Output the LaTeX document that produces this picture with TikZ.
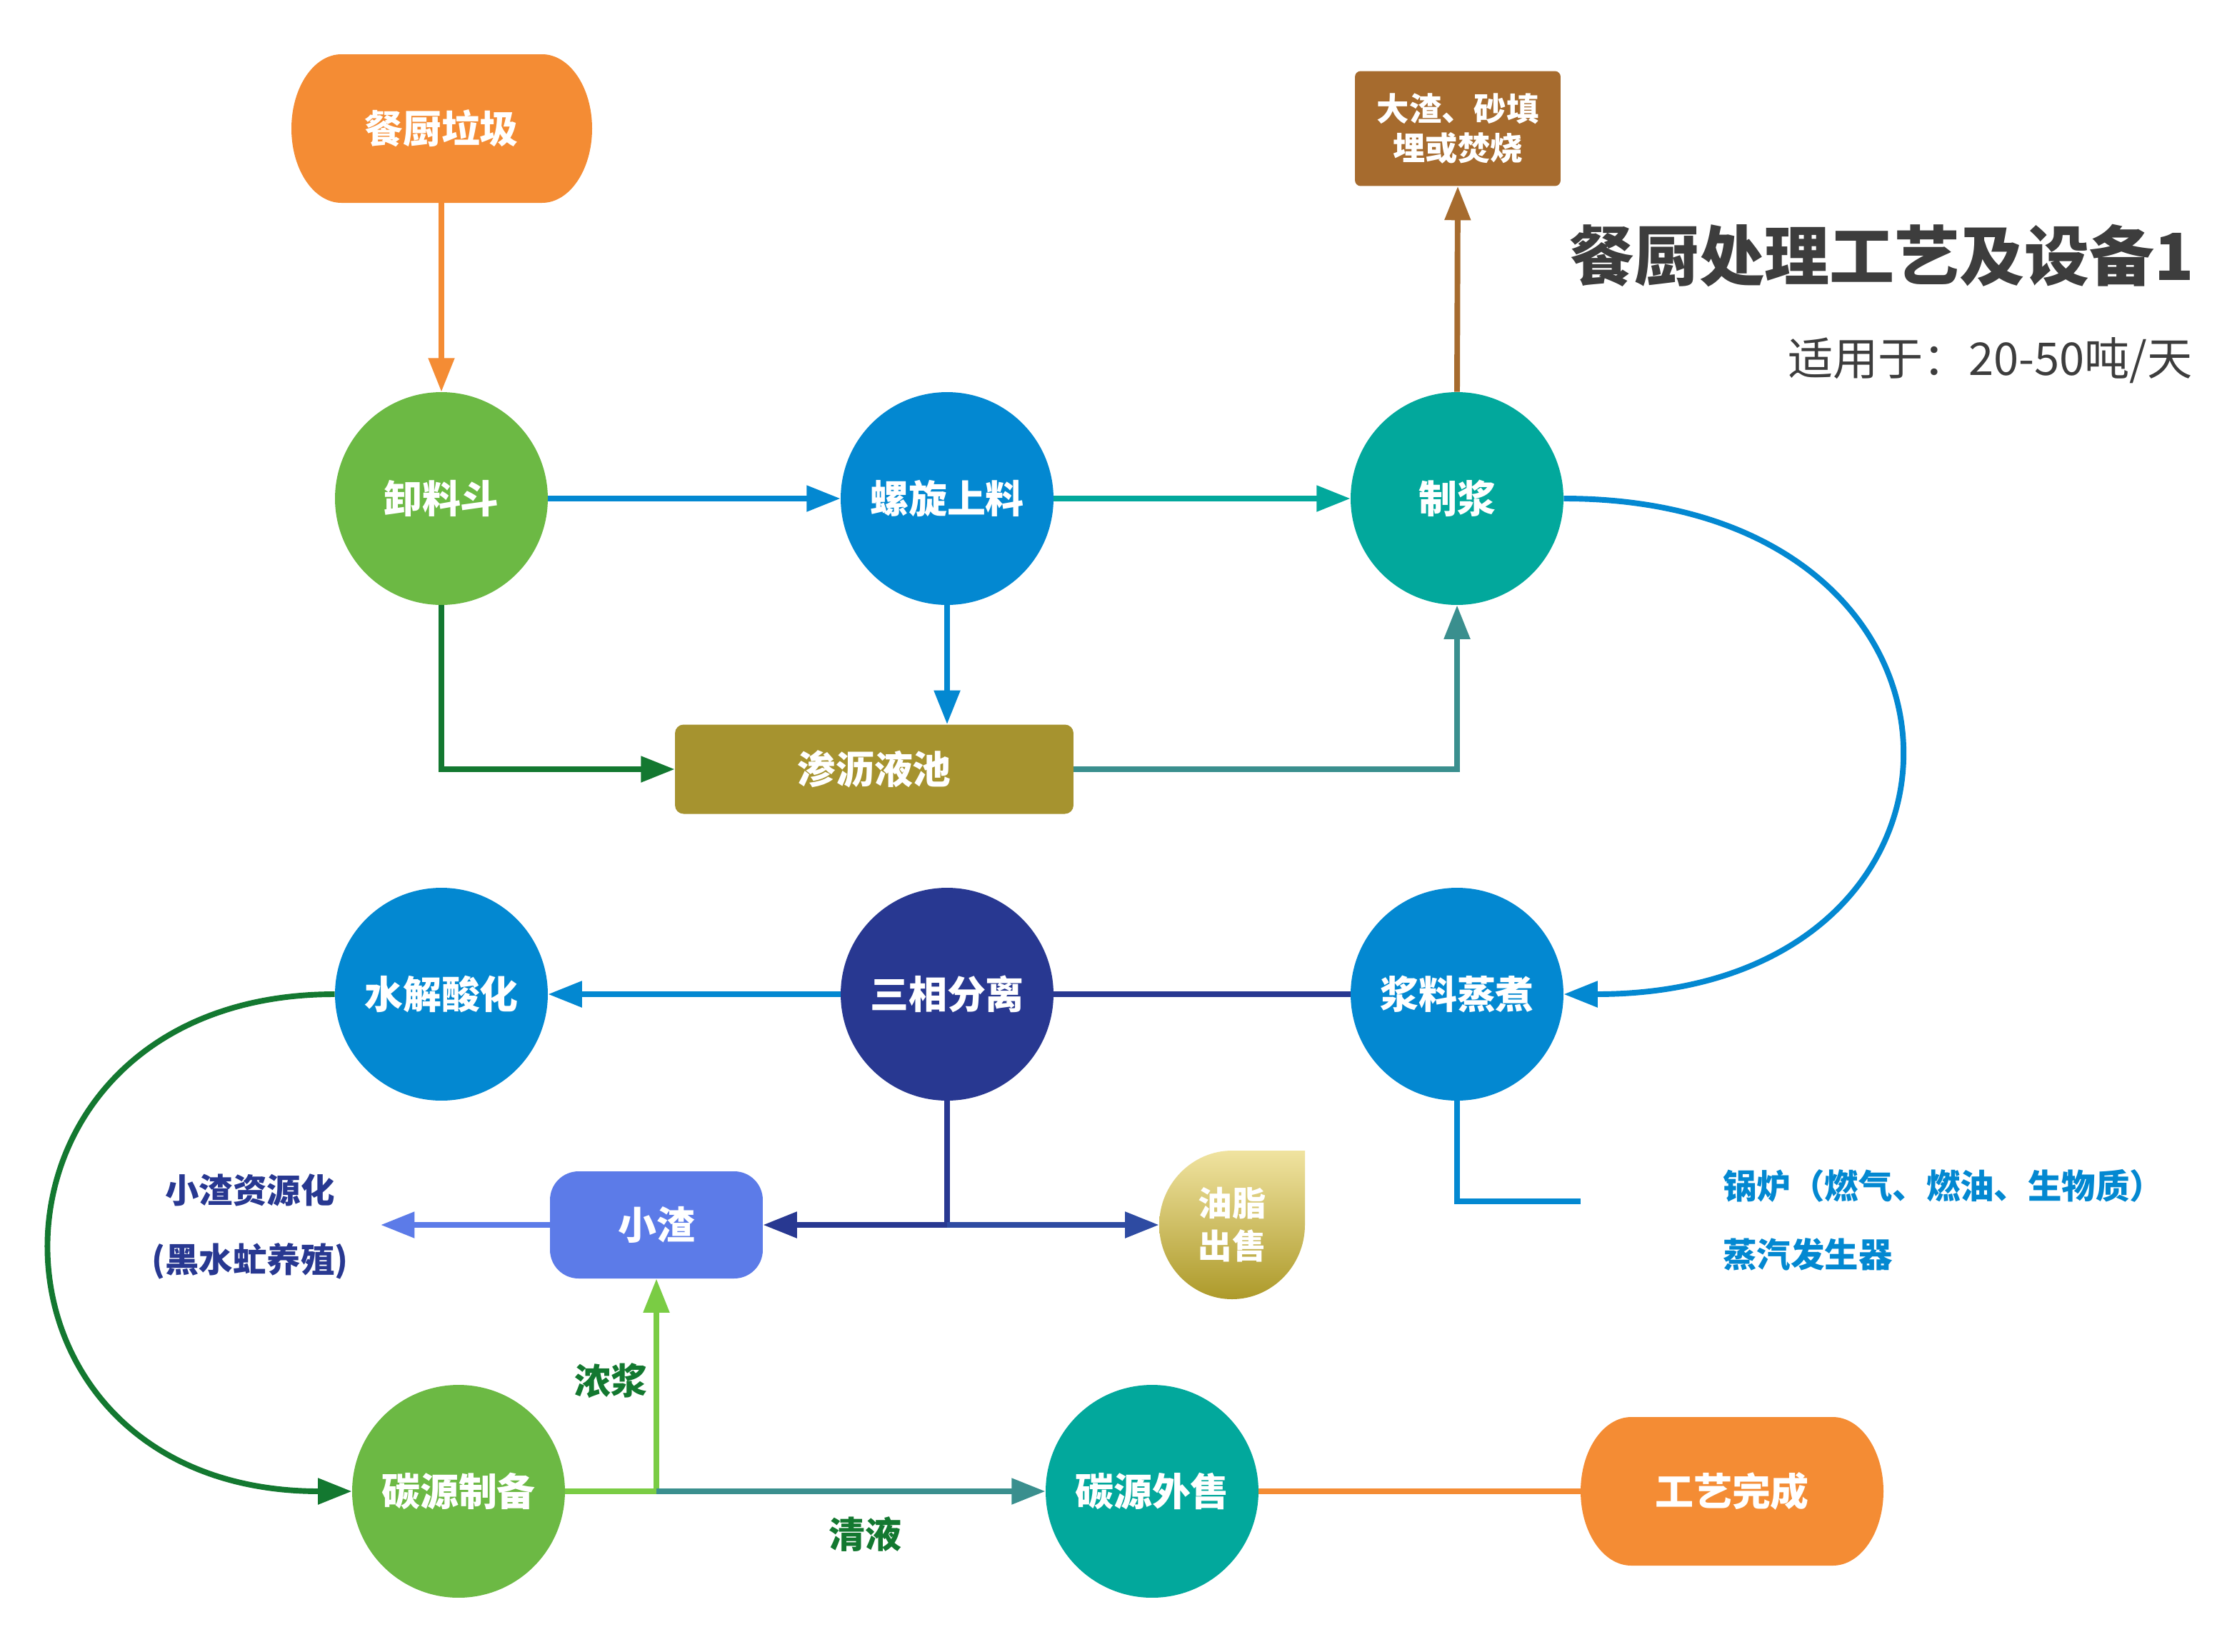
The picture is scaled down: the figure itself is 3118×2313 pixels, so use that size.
\documentclass[tikz,border=0pt]{standalone}
\usepackage{fontspec}
\newfontfamily\cjk{Noto Sans CJK SC}
\usetikzlibrary{arrows.meta}
\definecolor{cOrange}{HTML}{F48C34}
\definecolor{cGreen}{HTML}{6CB944}
\definecolor{cBlue}{HTML}{0388D1}
\definecolor{cTeal}{HTML}{02A89C}
\definecolor{cNavy}{HTML}{283891}
\definecolor{cOlive}{HTML}{A6932F}
\definecolor{cBrown}{HTML}{A66B2E}
\definecolor{cSmall}{HTML}{5C7BE8}
\definecolor{cDkGreen}{HTML}{137830}
\definecolor{cTealGray}{HTML}{3A8F8E}
\definecolor{cLightGreen}{HTML}{7ACC44}
\definecolor{cNavyB}{HTML}{2E4BA2}
\definecolor{cTitle}{HTML}{3D3D3D}
\definecolor{cLeafTop}{HTML}{F0E3A0}
\definecolor{cLeafBot}{HTML}{AD9A2A}
\begin{document}
\begin{tikzpicture}[x=0.02cm,y=-0.02cm,
  every node/.style={inner sep=0pt, align=center, text=white,
    font=\cjk\bfseries\fontsize{30.7pt}{36pt}\selectfont},
  circ/.style={circle, minimum size=5.96cm, fill=#1},
  pill/.style={rectangle, minimum width=8.42cm, minimum height=4.16cm},
  pillfill/.style={fill=cOrange},
  conn/.style={line width=4.5pt, draw=#1},
  arr/.style={conn=#1, -{Triangle[length=27pt,width=20pt]}},
  lbl/.style={text=#1, font=\cjk\bfseries\fontsize{27pt}{32pt}\selectfont},
]
\useasboundingbox (0,0) rectangle (3118,2313);

% pill backgrounds (elliptic ends)
\path[pillfill] (478,76) -- (759,76) arc[start angle=270, end angle=450, x radius=70, y radius=104]
  -- (478,284) arc[start angle=90, end angle=270, x radius=70, y radius=104] -- cycle;
\path[pillfill] (2284,1984) -- (2566,1984) arc[start angle=270, end angle=450, x radius=71, y radius=104]
  -- (2284,2192) arc[start angle=90, end angle=270, x radius=71, y radius=104] -- cycle;

% nodes
\node[pill] (cc) at (618,180) {餐厨垃圾};
\node[rectangle, rounded corners=0.16cm, minimum width=5.76cm, minimum height=3.22cm, fill=cBrown,
      font=\cjk\bfseries\fontsize{25.8pt}{31.8pt}\selectfont] (dz) at (2041,180) {大渣、砂填\\埋或焚烧};
\node[circ=cGreen] (xl) at (618,698) {卸料斗};
\node[circ=cBlue] (lx) at (1326,698) {螺旋上料};
\node[circ=cTeal] (zj) at (2040,698) {制浆};
\node[rectangle, rounded corners=0.24cm, minimum width=11.16cm, minimum height=2.5cm, fill=cOlive] (sl) at (1224,1077) {渗沥液池};
\node[circ=cBlue] (sj) at (618,1392) {水解酸化};
\node[circ=cNavy] (sx) at (1326,1392) {三相分离};
\node[circ=cBlue] (zc) at (2040,1392) {浆料蒸煮};
\node[rectangle, rounded corners=0.8cm, minimum width=5.96cm, minimum height=3.0cm, fill=cSmall] (xz) at (919,1715) {小渣};
\shade[top color=cLeafTop, bottom color=cLeafBot]
  (1827,1611) -- (1827,1715) .. controls (1827,1772) and (1781,1819) .. (1725,1819)
  .. controls (1669,1819) and (1623,1772) .. (1623,1715)
  .. controls (1623,1658) and (1669,1611) .. (1725,1611) -- cycle;
\node[rectangle, minimum width=4.08cm, minimum height=4.16cm,
      font=\cjk\bfseries\fontsize{27pt}{34pt}\selectfont] (yz) at (1725,1715) {油脂\\出售};
\node[circ=cGreen] (tz) at (642,2088) {碳源制备};
\node[circ=cTeal] (tw) at (1613,2088) {碳源外售};
\node[pill] (wc) at (2425,2088) {工艺完成};

% title
\node[anchor=east, text=cTitle, font=\cjk\bfseries\fontsize{51.8pt}{60pt}\selectfont] (title) at (3072,358) {餐厨处理工艺及设备1};
\node[anchor=east, text=cTitle, font=\cjk\fontsize{36pt}{42pt}\selectfont] (sub) at (3070,505) {适用于：20-50吨/天};

% labels
\node[lbl=cNavy] (zy1) at (350,1666) {小渣资源化};
\node[lbl=cNavy] (zy2) at (350,1766) {(黑水虻养殖)};
\node[lbl=cBlue, anchor=west] (gl1) at (2412,1660) {锅炉（燃气、燃油、生物质）};
\node[lbl=cBlue, anchor=west] (gl2) at (2412,1756) {蒸汽发生器};
\node[lbl=cDkGreen, font=\cjk\bfseries\fontsize{29pt}{34pt}\selectfont] (nj) at (855,1933) {浓浆};
\node[lbl=cDkGreen, font=\cjk\bfseries\fontsize{29pt}{34pt}\selectfont] (qy) at (1211,2148) {清液};

% coordinates
\coordinate (j) at (1326,1715);
\coordinate (k) at (919,2088);
\coordinate (xzend) at (533,1715);
\coordinate (blr) at (2213,1682);

% connectors
\draw[arr=cOrange] (cc.south) -- (xl.north);
\draw[arr=cBlue] (xl.east) -- (lx.west);
\draw[arr=cTeal] (lx.east) -- (zj.west);
\draw[arr=cBlue] (lx.south) -- (lx.south |- sl.north);
\draw[arr=cDkGreen] (xl.south) |- (sl.west);
\draw[arr=cTealGray] (sl.east) -| (zj.south);
\draw[arr=cBrown] (zj.north) -- (dz.south);
\draw[arr=cBlue] (zj.east) .. controls (2816,698) and (2816,1392) .. (zc.east);
\draw[arr=cBlue] (sx.west) -- (sj.east);
\draw[conn=cNavy] (zc.west) -- (sx.east);
\draw[conn=cNavy] (sx.south) -- (j);
\draw[arr=cNavy] (j) -- (xz.east);
\draw[arr=cNavyB] (j) -- (yz.west);
\draw[arr=cSmall] (xz.west) -- (xzend);
\draw[conn=cBlue] (zc.south) |- (blr);
\draw[arr=cDkGreen] (sj.west) .. controls (-64,1392) and (-64,2088) .. (tz.west);
\draw[conn=cLightGreen] (tz.east) -- (k);
\draw[arr=cLightGreen] (k) -- (xz.south);
\draw[arr=cTealGray] (k) -- (tw.west);
\draw[conn=cOrange] (tw.east) -- (wc.west);
\end{tikzpicture}
\end{document}
